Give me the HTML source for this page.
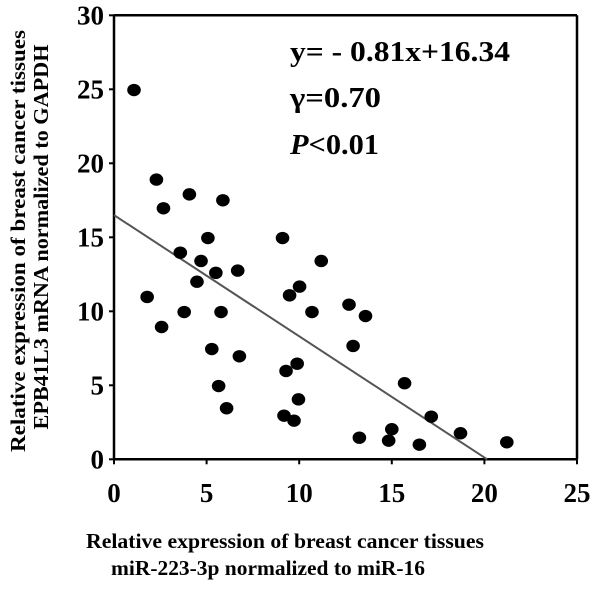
<!DOCTYPE html>
<html><head><meta charset="utf-8"><style>
html,body{margin:0;padding:0;background:#fff;}
svg text{font-family:"Liberation Serif","DejaVu Serif","Times New Roman",serif;font-weight:bold;fill:#000;}
</style></head><body>
<svg id="chart" width="602" height="587" xmlns="http://www.w3.org/2000/svg" font-family="Liberation Serif, DejaVu Serif, serif">
<g id="frame" stroke="#000" stroke-width="2.5">
<line x1="114" y1="15.3" x2="577" y2="15.3"/>
<line x1="577" y1="15.3" x2="577" y2="459.3"/>
<line x1="114" y1="459.3" x2="577" y2="459.3"/>
<line x1="114" y1="15.3" x2="114" y2="459.3"/>
</g>
<g id="ticks"></g>
<line id="fit" stroke="#555" stroke-width="2"/>
<g id="dots"></g>
<text x="290" y="61" font-size="28" textLength="220" lengthAdjust="spacingAndGlyphs">y= - 0.81x+16.34</text>
<text x="290" y="107" font-size="28" textLength="91" lengthAdjust="spacingAndGlyphs">γ=0.70</text>
<text x="290" y="154" font-size="28" textLength="89" lengthAdjust="spacingAndGlyphs"><tspan font-style="italic">P</tspan>&lt;0.01</text>
<text x="285" y="548" font-size="21" text-anchor="middle" textLength="398" lengthAdjust="spacingAndGlyphs">Relative expression of breast cancer tissues</text>
<text x="268" y="575" font-size="21" text-anchor="middle" textLength="314" lengthAdjust="spacingAndGlyphs">miR-223-3p normalized to miR-16</text>
<text transform="translate(25,241) rotate(-90)" font-size="21" text-anchor="middle" textLength="422" lengthAdjust="spacingAndGlyphs">Relative expression of breast cancer tissues</text>
<text transform="translate(48,237) rotate(-90)" font-size="21" text-anchor="middle" textLength="385" lengthAdjust="spacingAndGlyphs">EPB41L3 mRNA  normalized to GAPDH</text>
</svg>
<script>
const xTicks=[0,5,10,15,20,25];
const yTicks=[0,5,10,15,20,25,30];
const xVals=[1.08,2.29,2.67,4.07,5.88,5.07,3.58,4.70,5.50,6.68,4.48,1.79,3.79,5.78,2.57,5.28,6.77,5.65,6.08,9.10,11.19,10.02,9.48,10.69,12.69,13.58,12.91,9.89,9.29,9.96,9.18,9.72,15.69,17.13,18.71,13.25,15.0,14.83,16.49,21.21];
const yVals=[24.95,18.9,16.96,17.9,17.5,14.95,13.96,13.4,12.6,12.75,12.0,10.97,9.95,9.95,8.94,7.45,6.96,4.95,3.45,14.95,13.4,11.67,11.08,9.95,10.45,9.68,7.66,6.46,5.97,4.05,2.95,2.61,5.14,2.88,1.76,1.46,2.03,1.26,0.99,1.15];
const fitStart=[0,16.5];
const fitEnd=[20.15,0];
const X0=114,X1=577,Y0=459.3,Y1=15.3;
const sx=v=>X0+(v-0)/(25-0)*(X1-X0);
const sy=v=>Y0-(v-0)/(30-0)*(Y0-Y1);
const NS="http://www.w3.org/2000/svg";
const tg=document.getElementById('ticks');
xTicks.forEach(t=>{
  const l=document.createElementNS(NS,'line');
  l.setAttribute('x1',sx(t));l.setAttribute('x2',sx(t));l.setAttribute('y1',Y0);l.setAttribute('y2',Y0+5);
  l.setAttribute('stroke','#000');l.setAttribute('stroke-width','2');
  
  
  tg.appendChild(l);
  const tx=document.createElementNS(NS,'text');
  tx.setAttribute('x',sx(t));tx.setAttribute('y',502);tx.setAttribute('text-anchor','middle');tx.setAttribute('font-size','27');
  tx.textContent=t;
  
  
  tg.appendChild(tx);
});
yTicks.forEach(t=>{
  const l=document.createElementNS(NS,'line');
  l.setAttribute('x1',X0-5);l.setAttribute('x2',X0);l.setAttribute('y1',sy(t));l.setAttribute('y2',sy(t));
  l.setAttribute('stroke','#000');l.setAttribute('stroke-width','2');
  
  
  tg.appendChild(l);
  const tx=document.createElementNS(NS,'text');
  tx.setAttribute('x',X0-10);tx.setAttribute('y',sy(t)+9);tx.setAttribute('text-anchor','end');tx.setAttribute('font-size','27');
  tx.textContent=t;
  
  
  tg.appendChild(tx);
});
const fit=document.getElementById('fit');
fit.setAttribute('x1',sx(fitStart[0]));fit.setAttribute('y1',sy(fitStart[1]));
fit.setAttribute('x2',sx(fitEnd[0]));fit.setAttribute('y2',sy(fitEnd[1]));
const dg=document.getElementById('dots');
xVals.forEach((v,i)=>{
  const e=document.createElementNS(NS,'ellipse');
  e.setAttribute('cx',sx(v));e.setAttribute('cy',sy(yVals[i]));
  e.setAttribute('rx',6.8);e.setAttribute('ry',6.2);e.setAttribute('fill','#000');
  
  
  dg.appendChild(e);
});
</script>
</body></html>
